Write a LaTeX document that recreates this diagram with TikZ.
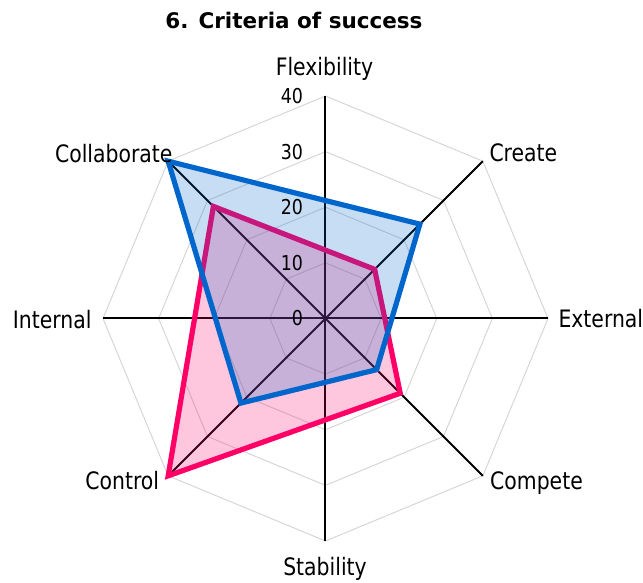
\documentclass[tikz,border=0pt]{standalone}
\usepackage{fontspec}
\setmainfont{DejaVu Sans}
\newfontfamily\lblfont[FakeStretch=0.85]{DejaVu Sans}
\definecolor{seriesblue}{HTML}{0066CC}
\definecolor{seriespink}{HTML}{FF0066}
\definecolor{gridgray}{HTML}{D6D6D6}
\tikzset{
  gridline/.style={gridgray, line width=1pt},
  axisline/.style={black, line width=2pt},
  series/.style={draw=#1, fill=#1, fill opacity=0.22, line width=5.2pt, line join=miter},
  lbl/.style={inner sep=0pt, font=\lblfont\fontsize{24}{28}\selectfont},
  ticklbl/.style={inner sep=0pt, anchor=east, font=\lblfont\fontsize{20.5}{24}\selectfont}
}
\begin{document}
\begin{tikzpicture}[x=5.5625pt, y=5.5625pt]
	\useasboundingbox (-325.5pt,-264.5pt) rectangle (317.5pt,318.5pt);
	
	% octagon grid
	\foreach \v in {10,20,30,40}
	\draw[gridline] (90:\v) \foreach \a in {45,0,...,-225} { -- (\a:\v) } -- cycle;
	
	% spokes
	\foreach \a in {0,45,...,315}
	\draw[axisline] (0,0) -- (\a:40);
	
	% series 2
	\draw[series=seriespink] (90:12.29) \foreach \a/\r in {45/12.5, 0/10.66, -45/19, -90/18.22, -135/40, 180/23.54, 135/28.5} { -- (\a:\r) } -- cycle;
	
	% series 1
	\draw[series=seriesblue] (90:21.21) \foreach \a/\r in {45/24, 0/11.93, -45/13, -90/11.46, -135/21.5, 180/19.78, 135/40} { -- (\a:\r) } -- cycle;
	
	% scale
	\foreach \v in {0,10,20,30,40}
	\node[ticklbl] (tick\v) at (-4,\v) {\v};
	
	% categories
	\node[lbl, anchor=base] (flexibility) at (-1pt,242.5pt) {Flexibility};
	\node[lbl, anchor=base west] (create) at (163.8pt,156.8pt) {Create};
	\node[lbl, anchor=base west] (external) at (232.8pt,-8.8pt) {External};
	\node[lbl, anchor=base west] (compete) at (164.5pt,-171.5pt) {Compete};
	\node[lbl, anchor=base] (stability) at (-0.5pt,-257.5pt) {Stability};
	\node[lbl, anchor=base east] (control) at (-166.2pt,-171.5pt) {Control};
	\node[lbl, anchor=base east] (internal) at (-233.8pt,-9.8pt) {Internal};
	\node[lbl, anchor=base east] (collaborate) at (-152.8pt,155.8pt) {Collaborate};
	
	\node[inner sep=0pt, anchor=base, font=\bfseries\fontsize{21.5}{25}\selectfont] (title) at (-31.5pt,290.2pt) {6. Criteria of success};
	
\end{tikzpicture}
\end{document}
